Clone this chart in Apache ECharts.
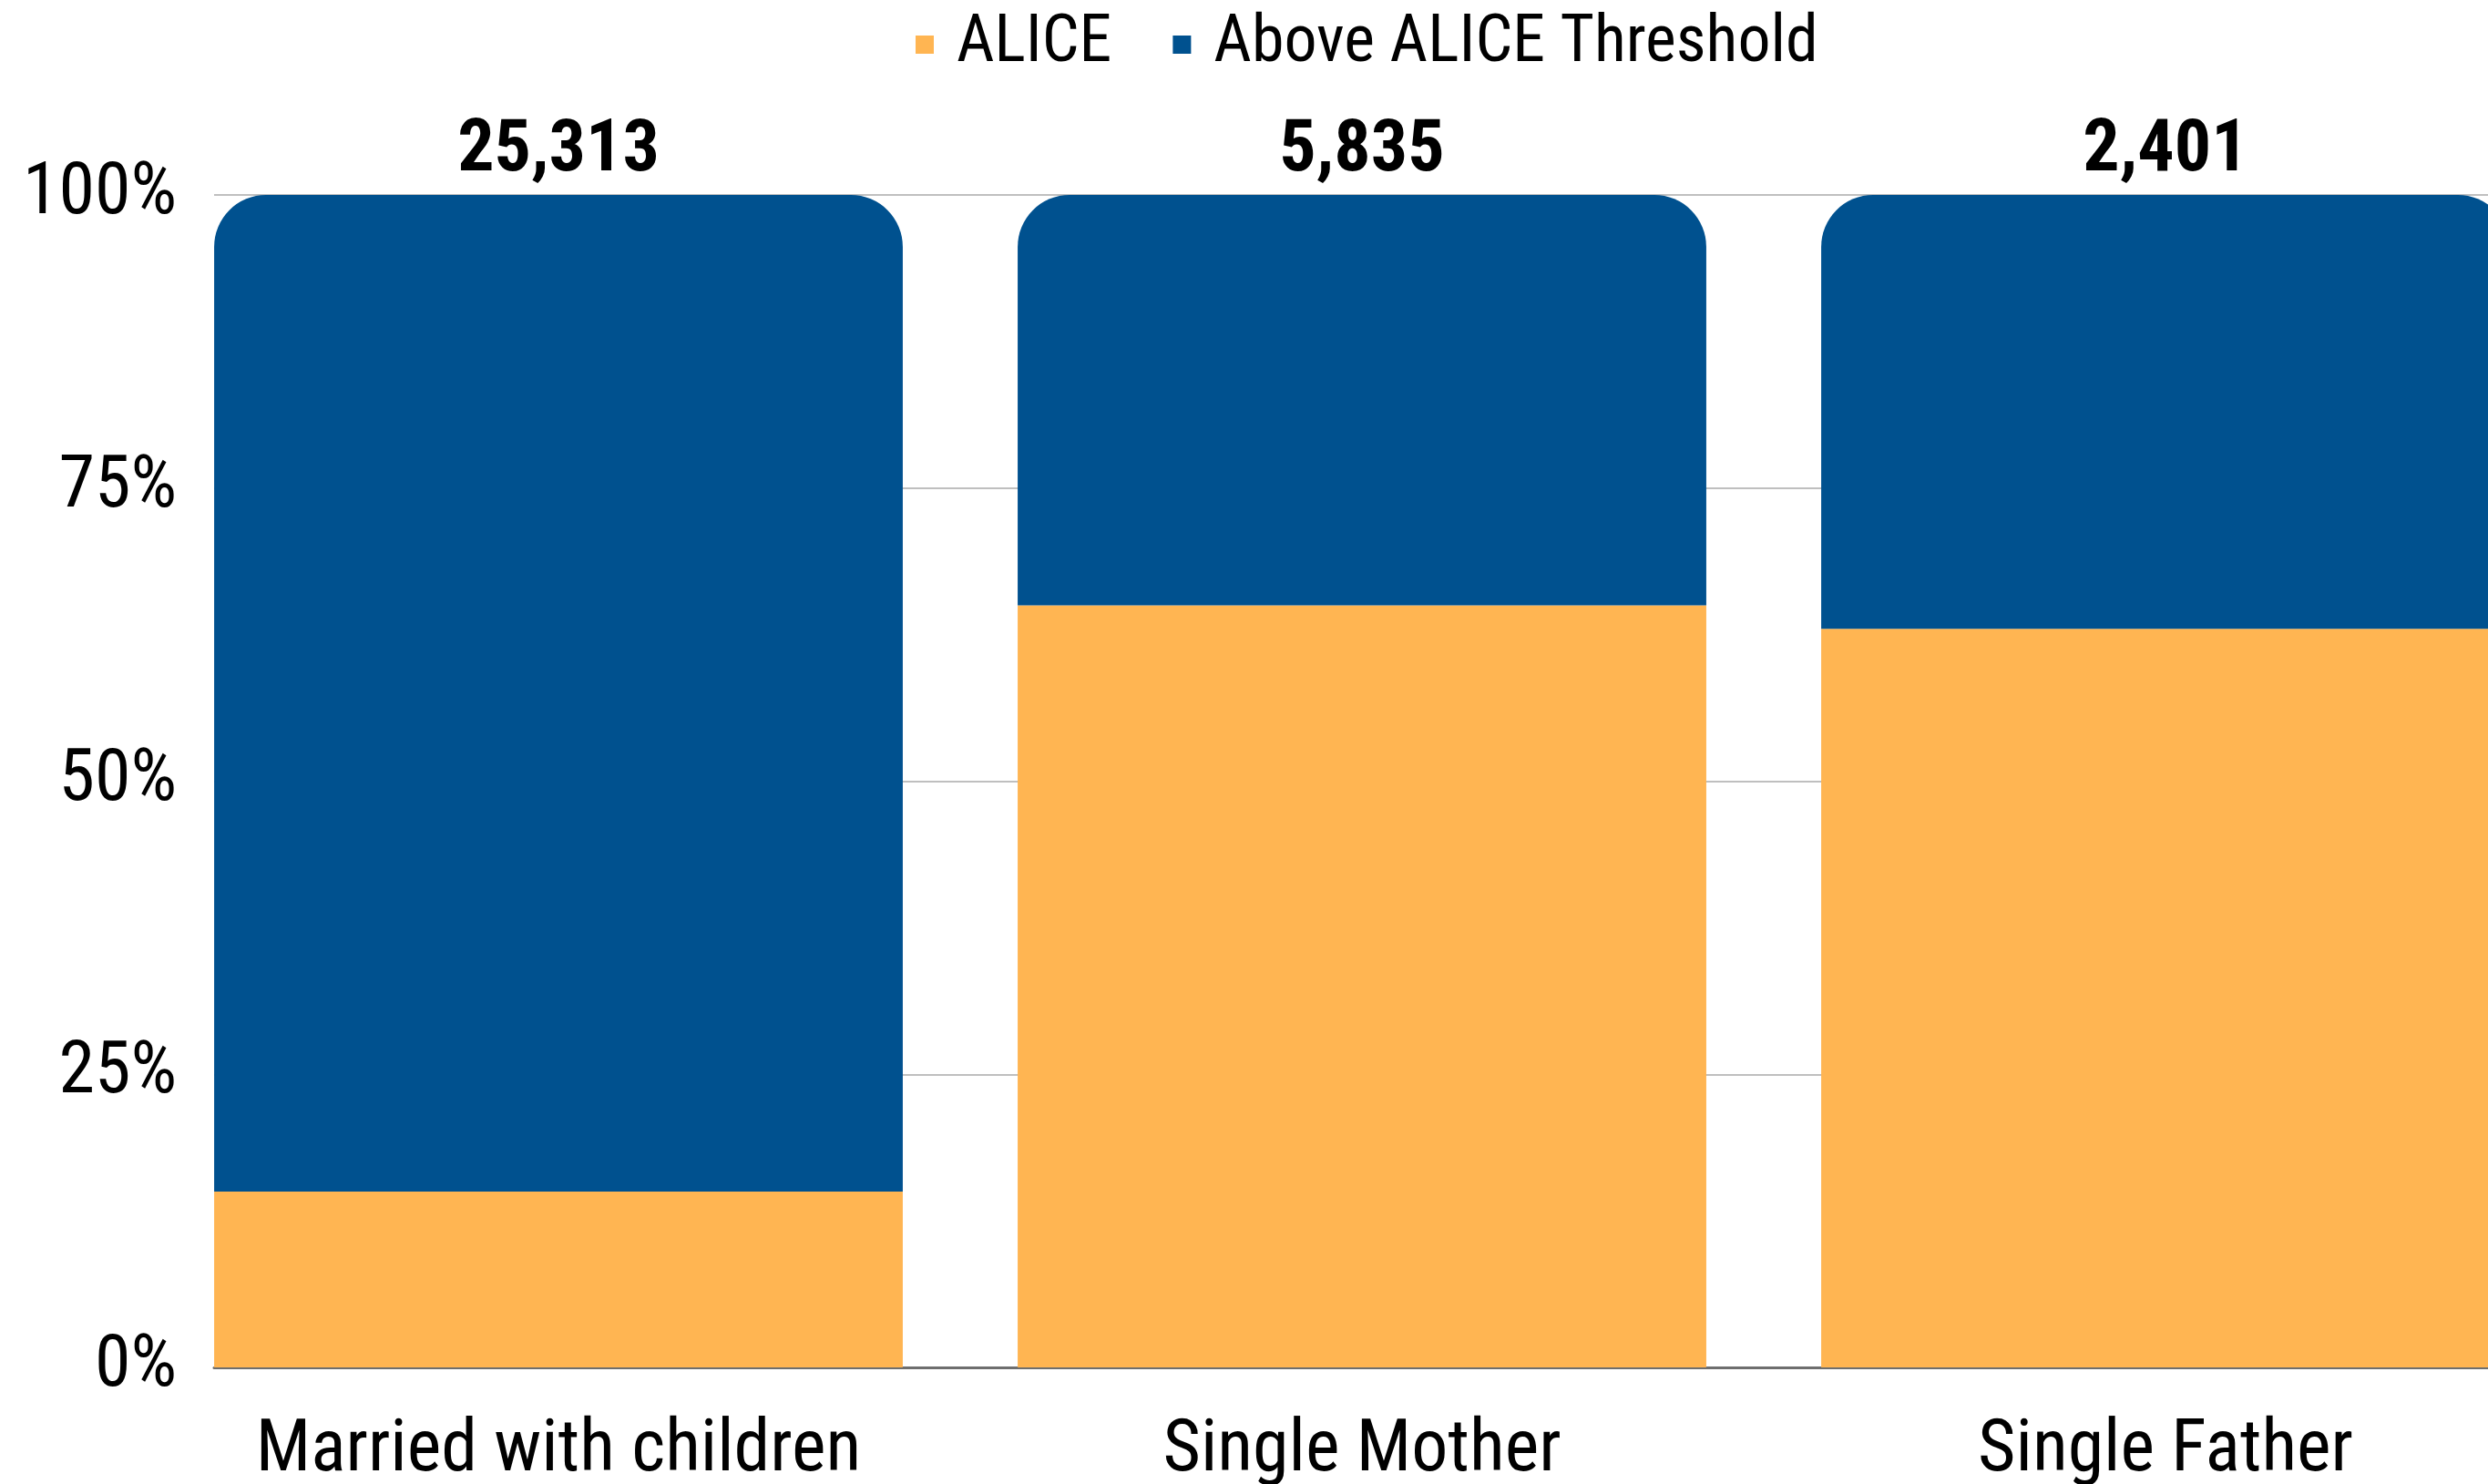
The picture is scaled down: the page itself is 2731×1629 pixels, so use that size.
<!DOCTYPE html>
<html>
<head>
<meta charset="utf-8">
<script src="https://cdn.jsdelivr.net/npm/echarts@6/dist/echarts.min.js"></script>
<style>
html,body{margin:0;padding:0;background:#fff;}
#chart{width:2731px;height:1629px;}
</style>
</head>
<body>
<div id="chart"></div>
<script>
const categories = ['Married with children', 'Single Mother', 'Single Father'];
const alicePct = [15, 65, 63];
const abovePct = [85, 35, 37];
const totals = [25313, 5835, 2401];
const yTicks = [0, 25, 50, 75, 100];

const FONT = "'Roboto Condensed', Roboto, sans-serif";
const chart = echarts.init(document.getElementById('chart'));
const option = {
  backgroundColor: '#ffffff',
  animation: false,
  textStyle: { fontFamily: FONT },
  legend: {
    top: 8,
    left: 1000,
    itemWidth: 20,
    itemHeight: 20,
    itemGap: 67,
    icon: 'rect',
    data: ['ALICE', 'Above ALICE Threshold'],
    textStyle: { fontSize: 72, color: '#000', fontFamily: FONT, padding: [0, 0, 0, 20] }
  },
  grid: [
    { left: 235, right: 0, top: 214, bottom: 128, outerBoundsMode: 'none' },
    { left: 172, right: -87, top: 214, bottom: 128, outerBoundsMode: 'none' }
  ],
  xAxis: [
    { gridIndex: 0, type: 'value', min: 0, max: 1,
      axisLine: { show: true, lineStyle: { color: '#6e6e6e', width: 3 } },
      axisTick: { show: false }, axisLabel: { show: false }, splitLine: { show: false } },
    { gridIndex: 1, type: 'category', data: categories,
      axisLine: { show: false }, axisTick: { show: false },
      axisLabel: { interval: 0, fontSize: 80, color: '#000', margin: 53, fontFamily: FONT } }
  ],
  yAxis: [
    { gridIndex: 0, type: 'value', min: yTicks[0], max: yTicks[yTicks.length - 1], interval: 25,
      axisLine: { show: false }, axisTick: { show: false },
      axisLabel: { fontSize: 80, color: '#000', margin: 41, formatter: '{value}%', fontFamily: FONT },
      splitLine: { show: true, lineStyle: { color: '#bfbfbf', width: 2 } } },
    { gridIndex: 1, type: 'value', min: 0, max: 100, show: false, splitLine: { show: false } }
  ],
  series: [
    { name: 'ALICE', type: 'bar', stack: 'total', xAxisIndex: 1, yAxisIndex: 1,
      data: alicePct, barCategoryGap: '14.3%',
      itemStyle: { color: '#FFB552' } },
    { name: 'Above ALICE Threshold', type: 'bar', stack: 'total', xAxisIndex: 1, yAxisIndex: 1,
      data: abovePct, barCategoryGap: '14.3%',
      itemStyle: { color: '#00518F', borderRadius: [57, 57, 0, 0] },
      label: { show: true, position: 'top', distance: 7, fontSize: 80, fontWeight: 'bold', color: '#000',
        fontFamily: FONT,
        formatter: p => totals[p.dataIndex].toLocaleString('en-US') } }
  ]
};
chart.setOption(option);
</script>
</body>
</html>
